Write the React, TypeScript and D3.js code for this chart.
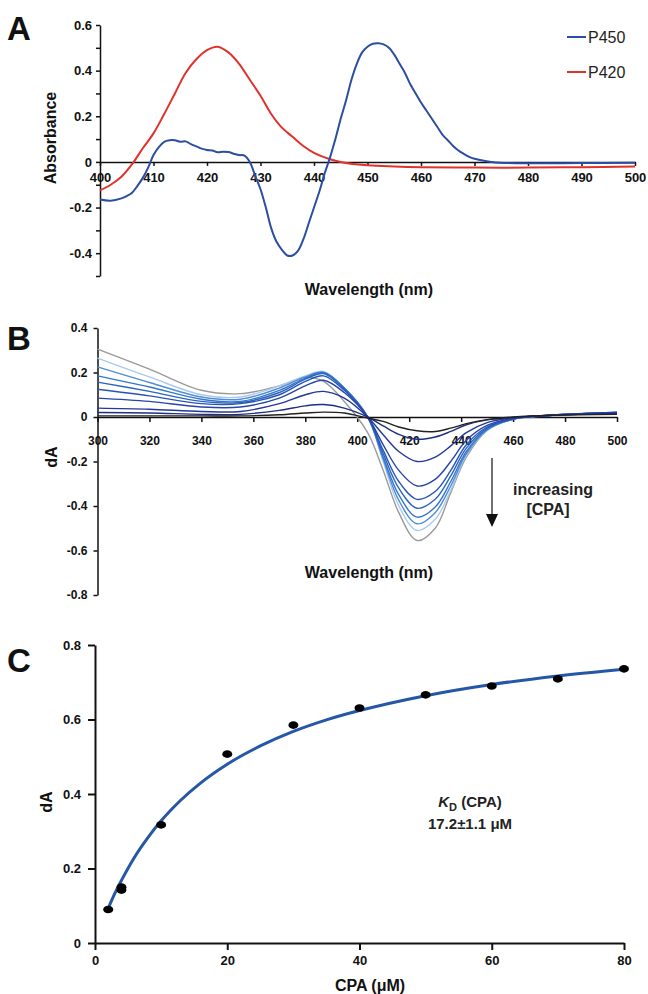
import React, { useEffect, useRef } from 'react';
import * as d3 from 'd3';

// ---- Panel A: P450 / P420 spectra ----
const waveP450 = [400, 402, 404, 405, 406, 407, 408, 409, 410, 411, 412, 413, 414, 415, 416, 417, 418, 419, 420, 421, 422, 423, 424, 425, 426, 427, 428, 429, 430, 431, 432, 433, 434, 435, 436, 437, 438, 439, 440, 441, 442, 443, 444, 445, 446, 447, 448, 449, 450, 451, 452, 453, 454, 455, 456, 457, 458, 459, 460, 461, 462, 463, 464, 465, 466, 467, 468, 469, 470, 472, 474, 476, 480, 490, 500];
const absP450 = [-0.165, -0.17, -0.16, -0.15, -0.135, -0.105, -0.07, -0.025, 0.03, 0.065, 0.088, 0.095, 0.095, 0.088, 0.09, 0.078, 0.068, 0.058, 0.052, 0.05, 0.042, 0.045, 0.043, 0.036, 0.03, 0.028, 0.0, -0.06, -0.12, -0.2, -0.29, -0.35, -0.385, -0.41, -0.41, -0.39, -0.34, -0.27, -0.2, -0.13, -0.05, 0.02, 0.1, 0.19, 0.27, 0.36, 0.43, 0.48, 0.505, 0.518, 0.52, 0.515, 0.5, 0.47, 0.43, 0.39, 0.34, 0.3, 0.26, 0.225, 0.19, 0.155, 0.12, 0.095, 0.07, 0.05, 0.035, 0.022, 0.014, 0.004, -0.003, -0.005, -0.006, -0.005, -0.004];
const waveP420 = [400, 402, 404, 406, 408, 410, 412, 414, 416, 418, 420, 422, 424, 426, 428, 430, 432, 434, 436, 438, 440, 442, 444, 446, 450, 455, 460, 470, 480, 490, 500];
const absP420 = [-0.125, -0.1, -0.065, -0.01, 0.06, 0.125, 0.21, 0.3, 0.39, 0.45, 0.49, 0.505, 0.48, 0.43, 0.36, 0.29, 0.21, 0.15, 0.11, 0.07, 0.04, 0.02, 0.005, -0.005, -0.015, -0.02, -0.023, -0.025, -0.025, -0.023, -0.02];
const legendA = ['P450', 'P420'];
const colorsA = ['#2b4ea3', '#e0322b'];

// ---- Panel B: difference spectra at increasing [CPA] ----
const waveB = [300, 320, 340, 355, 370, 380, 387, 395, 404, 410, 416, 423, 430, 436, 442, 450, 460, 475, 500];
const dA0 = [0.005, 0.005, 0.005, 0.005, 0.01, 0.018, 0.022, 0.018, -0.005, -0.02, -0.045, -0.062, -0.065, -0.05, -0.03, -0.012, 0.0, 0.008, 0.012];
const dA1 = [0.02, 0.018, 0.012, 0.012, 0.03, 0.05, 0.056, 0.04, 0.0, -0.04, -0.078, -0.1, -0.09, -0.065, -0.035, -0.013, -0.002, 0.008, 0.015];
const dA2 = [0.04, 0.035, 0.025, 0.025, 0.06, 0.1, 0.115, 0.085, 0.0, -0.08, -0.155, -0.2, -0.18, -0.13, -0.07, -0.025, -0.004, 0.008, 0.018];
const dA3 = [0.085, 0.07, 0.045, 0.045, 0.085, 0.14, 0.165, 0.11, 0.0, -0.125, -0.24, -0.31, -0.28, -0.2, -0.105, -0.038, -0.006, 0.008, 0.02];
const dA4 = [0.125, 0.095, 0.06, 0.06, 0.1, 0.16, 0.185, 0.12, 0.0, -0.15, -0.29, -0.37, -0.335, -0.24, -0.125, -0.045, -0.008, 0.008, 0.02];
const dA5 = [0.157, 0.115, 0.07, 0.065, 0.11, 0.17, 0.195, 0.125, 0.0, -0.165, -0.32, -0.41, -0.37, -0.265, -0.14, -0.05, -0.008, 0.008, 0.02];
const dA6 = [0.185, 0.135, 0.08, 0.07, 0.12, 0.175, 0.2, 0.13, 0.0, -0.18, -0.35, -0.45, -0.405, -0.29, -0.155, -0.055, -0.01, 0.008, 0.02];
const dA7 = [0.225, 0.155, 0.09, 0.08, 0.13, 0.18, 0.2, 0.13, 0.0, -0.19, -0.375, -0.48, -0.43, -0.31, -0.165, -0.058, -0.01, 0.008, 0.02];
const dA8 = [0.265, 0.18, 0.1, 0.09, 0.14, 0.185, 0.205, 0.13, 0.0, -0.2, -0.4, -0.51, -0.46, -0.33, -0.17, -0.06, -0.01, 0.008, 0.02];
const dA9 = [0.305, 0.215, 0.12, 0.105, 0.14, 0.178, 0.16, 0.07, -0.07, -0.24, -0.43, -0.555, -0.5, -0.34, -0.18, -0.06, -0.01, 0.005, 0.015];
const seriesB = [dA0, dA1, dA2, dA3, dA4, dA5, dA6, dA7, dA8, dA9];
const colorsB = ['#222222', '#1f2f86', '#23389a', '#2645a8', '#2855b5', '#2b65c0', '#3576c9', '#4f8dd6', '#a9caee', '#9a9a9a'];

// ---- Panel C: titration ----
const cpaConc = [2, 4, 4, 10, 20, 30, 40, 50, 60, 70, 80];
const cpaDA = [0.09, 0.15, 0.142, 0.317, 0.507, 0.585, 0.631, 0.666, 0.69, 0.709, 0.736];
const fitConc = [2, 3, 4, 6, 8, 10, 13, 16, 20, 25, 30, 35, 40, 50, 60, 70, 80];
const fitDA = [0.093, 0.133, 0.168, 0.231, 0.283, 0.328, 0.384, 0.43, 0.48, 0.529, 0.568, 0.599, 0.624, 0.664, 0.694, 0.717, 0.735];

const FONT = 'Arial, "Liberation Sans", Helvetica, sans-serif';

// plain hyphen for negatives, "0" for zero
const fmt = d => (Math.abs(d) < 1e-9 ? '0' : d.toFixed(1));

const styleAxis = (g, size, width) => {
  g.selectAll('path').attr('stroke', '#111').attr('stroke-width', width);
  g.selectAll('line').attr('stroke', '#111').attr('stroke-width', width);
  g.selectAll('text')
    .attr('fill', '#111')
    .attr('font-family', FONT)
    .attr('font-weight', 'bold')
    .attr('font-size', size);
};

const App = () => {
  const svgRef = useRef(null);

  useEffect(() => {
    const svg = d3.select(svgRef.current);
    svg.selectAll('*').remove();

    const panelLetter = (t, x, y) =>
      svg.append('text').attr('x', x).attr('y', y).attr('font-family', FONT)
        .attr('font-weight', 'bold').attr('font-size', 33).attr('fill', '#111').text(t);

    const title = (t, x, y, rotate = false) => {
      const el = svg.append('text')
        .attr('font-family', FONT).attr('font-weight', 'bold').attr('font-size', 16)
        .attr('fill', '#111').attr('text-anchor', 'middle').text(t);
      if (rotate) el.attr('transform', `translate(${x},${y}) rotate(-90)`);
      else el.attr('x', x).attr('y', y);
      return el;
    };

    // ---------- Panel A ----------
    const xA = d3.scaleLinear().domain([400, 500]).range([100, 635]);
    const yA = d3.scaleLinear().domain([-0.5, 0.6]).range([276, 25]);

    svg.append('g')
      .attr('transform', `translate(100,0)`)
      .call(d3.axisLeft(yA).tickValues(d3.range(-5, 7).map(d => d / 10))
        .tickFormat(d => (Math.round(d * 10) % 2 === 0 ? fmt(d) : ''))
        .tickSize(4).tickPadding(4).tickSizeOuter(0))
      .call(g => styleAxis(g, 13, 1.5));

    svg.append('g')
      .attr('transform', `translate(0,${yA(0)})`)
      .call(d3.axisBottom(xA).tickValues(d3.range(400, 501, 10)).tickSize(4).tickPadding(7).tickSizeOuter(0))
      .call(g => styleAxis(g, 13, 1.5));

    const lineA = d3.line().x(d => xA(d[0])).y(d => yA(d[1])).curve(d3.curveCatmullRom.alpha(0.5));
    svg.append('path').datum(waveP420.map((w, i) => [w, absP420[i]]))
      .attr('d', lineA).attr('fill', 'none').attr('stroke', colorsA[1]).attr('stroke-width', 2);
    svg.append('path').datum(waveP450.map((w, i) => [w, absP450[i]]))
      .attr('d', lineA).attr('fill', 'none').attr('stroke', colorsA[0]).attr('stroke-width', 2);

    legendA.forEach((name, i) => {
      const y = 37 + i * 35;
      svg.append('line').attr('x1', 567).attr('x2', 586).attr('y1', y).attr('y2', y)
        .attr('stroke', colorsA[i]).attr('stroke-width', 2);
      svg.append('text').attr('x', 588).attr('y', y + 6).attr('font-family', FONT)
        .attr('font-size', 16).attr('fill', '#222').text(name);
    });

    title('Absorbance', 56, 138, true);
    title('Wavelength (nm)', 369, 295);
    panelLetter('A', 7, 40);

    // ---------- Panel B ----------
    const xB = d3.scaleLinear().domain([300, 500]).range([97.5, 617]);
    const yB = d3.scaleLinear().domain([-0.8, 0.4]).range([595, 328]);

    svg.append('g')
      .attr('transform', `translate(97.5,0)`)
      .call(d3.axisLeft(yB).tickValues(d3.range(-8, 5, 2).map(d => d / 10))
        .tickFormat(fmt)
        .tickSize(4).tickPadding(6).tickSizeOuter(0))
      .call(g => styleAxis(g, 12, 1.5));

    svg.append('g')
      .attr('transform', `translate(0,${yB(0)})`)
      .call(d3.axisBottom(xB).tickValues(d3.range(300, 501, 20)).tickSize(5).tickPadding(14).tickSizeOuter(0))
      .call(g => styleAxis(g, 12, 1.5));

    const lineB = d3.line().x(d => xB(d[0])).y(d => yB(d[1])).curve(d3.curveCatmullRom.alpha(0.5));
    seriesB.slice().reverse().forEach((s, j) => {
      const i = seriesB.length - 1 - j;
      svg.append('path').datum(waveB.map((w, k) => [w, s[k]]))
        .attr('d', lineB).attr('fill', 'none').attr('stroke', colorsB[i]).attr('stroke-width', 1.4);
    });

    // arrow + note
    svg.append('line').attr('x1', 492).attr('x2', 492).attr('y1', 458).attr('y2', 518)
      .attr('stroke', '#111').attr('stroke-width', 1.2);
    svg.append('path').attr('d', 'M486,514 L498,514 L492,527 Z').attr('fill', '#111');
    svg.append('text').attr('x', 553).attr('y', 495).attr('text-anchor', 'middle')
      .attr('font-family', FONT).attr('font-weight', 'bold').attr('font-size', 16).attr('fill', '#222')
      .text('increasing');
    svg.append('text').attr('x', 548).attr('y', 515).attr('text-anchor', 'middle')
      .attr('font-family', FONT).attr('font-weight', 'bold').attr('font-size', 16).attr('fill', '#222')
      .text('[CPA]');

    title('dA', 57, 457, true);
    title('Wavelength (nm)', 369, 578);
    panelLetter('B', 7, 350);

    // ---------- Panel C ----------
    const xC = d3.scaleLinear().domain([0, 80]).range([95, 624]);
    const yC = d3.scaleLinear().domain([0, 0.8]).range([943, 645]);

    svg.append('g')
      .attr('transform', `translate(95,0)`)
      .call(d3.axisLeft(yC).tickValues([0, 0.2, 0.4, 0.6, 0.8])
        .tickFormat(fmt)
        .tickSize(7).tickPadding(7).tickSizeOuter(0))
      .call(g => styleAxis(g, 13, 2));

    svg.append('g')
      .attr('transform', `translate(0,${yC(0)})`)
      .call(d3.axisBottom(xC).tickValues([0, 20, 40, 60, 80]).tickSize(7).tickPadding(6).tickSizeOuter(0))
      .call(g => styleAxis(g, 13, 2));

    const lineC = d3.line().x(d => xC(d[0])).y(d => yC(d[1])).curve(d3.curveMonotoneX);
    svg.append('path').datum(fitConc.map((c, i) => [c, fitDA[i]]))
      .attr('d', lineC).attr('fill', 'none').attr('stroke', '#2457a6').attr('stroke-width', 3);

    svg.append('g').selectAll('ellipse')
      .data(cpaConc.map((c, i) => [c, cpaDA[i]]))
      .enter().append('ellipse')
      .attr('cx', d => xC(d[0])).attr('cy', d => yC(d[1]))
      .attr('rx', 5).attr('ry', 3.8).attr('fill', '#000');

    const kd = svg.append('text').attr('x', 470).attr('y', 807).attr('text-anchor', 'middle')
      .attr('font-family', FONT).attr('font-weight', 'bold').attr('font-size', 15).attr('fill', '#222');
    kd.append('tspan').attr('font-style', 'italic').text('K');
    kd.append('tspan').attr('font-size', 11).attr('dy', 4).text('D');
    kd.append('tspan').attr('dy', -4).text(' (CPA)');
    svg.append('text').attr('x', 470).attr('y', 829).attr('text-anchor', 'middle')
      .attr('font-family', FONT).attr('font-weight', 'bold').attr('font-size', 15).attr('fill', '#222')
      .text('17.2±1.1 μM');

    title('dA', 52, 802, true);
    title('CPA (μM)', 370, 991);
    panelLetter('C', 7, 672);
  }, []);

  return (
    <svg ref={svgRef} width={648} height={994}
      style={{ position: 'absolute', left: 0, top: 0, background: '#fff' }} />
  );
};

export default App;
